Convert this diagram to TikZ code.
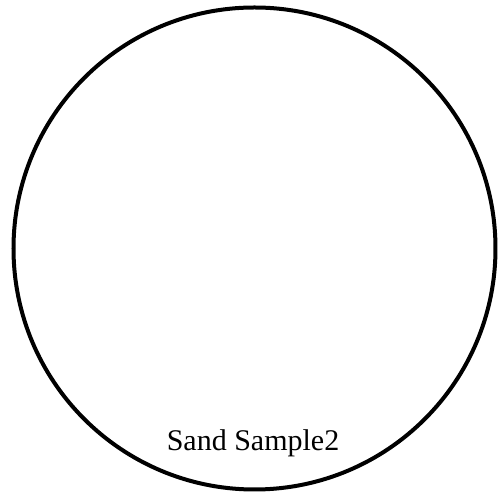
\documentclass[tikz,border=0pt]{standalone}
\usepackage{fontspec}
\setmainfont{Liberation Serif}
\begin{document}
\begin{tikzpicture}[x=0.5pt,y=-0.5pt,
  ring/.style={draw=black,line width=2pt},
  lbl/.style={font=\fontsize{15}{18}\selectfont,inner sep=0pt}]
\useasboundingbox (0,0) rectangle (500,496);
\node[ring,circle,minimum size=241pt] (c) at (254.5,248.5) {};
\node[lbl] (t) at (253,443) {Sand Sample2};
\end{tikzpicture}
\end{document}
